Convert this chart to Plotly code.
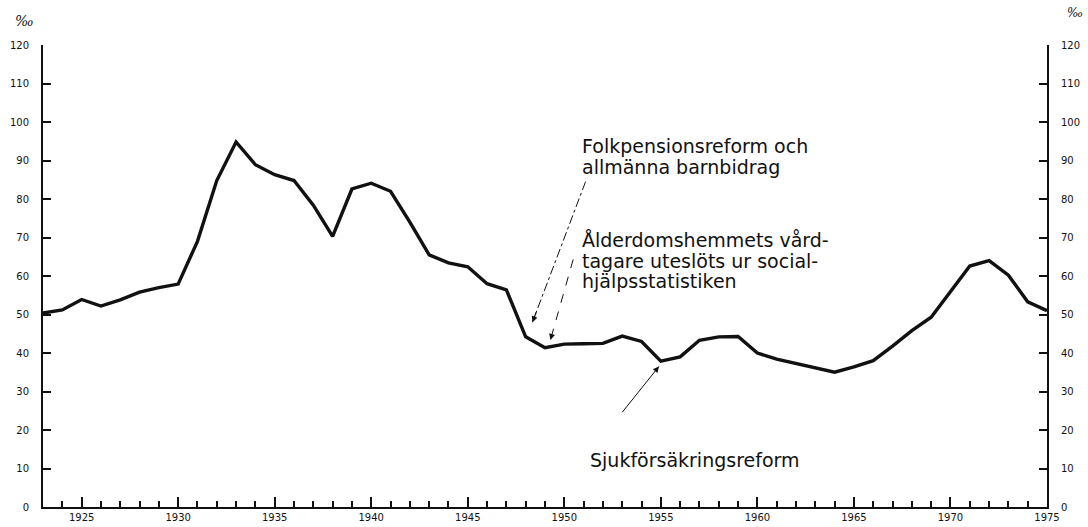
import plotly.graph_objects as go

# Socialhjälpstagare per 1000 invånare (‰), 1923-1975
years = list(range(1923, 1976))
values = [
    50.4, 51.2, 53.9, 52.2, 53.8, 55.8, 57.0, 57.9,   # 1923-1930
    69.0, 84.8, 94.8, 88.9, 86.3, 84.8, 78.4, 70.3,   # 1931-1938
    82.6, 84.1, 82.0, 74.0, 65.5, 63.4, 62.4, 58.0,   # 1939-1946
    56.4, 44.2, 41.4, 42.3, 42.4, 42.5, 44.4, 43.0,   # 1947-1954
    37.9, 39.0, 43.3, 44.2, 44.3, 40.0, 38.4, 37.2,   # 1955-1962
    36.0, 35.0, 36.4, 38.0, 41.8, 45.8, 49.3, 55.8,   # 1963-1970
    62.6, 64.0, 60.2, 53.3, 51.0,                     # 1971-1975
]

y_ticks = list(range(0, 121, 10))
x_ticks = list(range(1925, 1976, 5))

FONT = "DejaVu Sans"
BLACK = "#111111"

fig = go.Figure()

fig.add_trace(go.Scatter(
    x=years, y=values, mode="lines",
    line=dict(color=BLACK, width=3.4),
    hoverinfo="x+y", showlegend=False,
))
# same series on the right-hand axis (invisible) so that axis is drawn
fig.add_trace(go.Scatter(
    x=years, y=values, mode="lines", yaxis="y2",
    line=dict(color="rgba(0,0,0,0)", width=0),
    hoverinfo="skip", showlegend=False,
))

axis_common = dict(
    showline=True, linecolor=BLACK, linewidth=2,
    showgrid=False, zeroline=False,
    ticks="inside", tickcolor=BLACK, tickwidth=2,
)

fig.update_layout(
    width=1088, height=527,
    paper_bgcolor="white", plot_bgcolor="white",
    font=dict(family=FONT, color=BLACK),
    margin=dict(l=43, r=41, t=45, b=20),
    xaxis=dict(
        **axis_common,
        range=[1923, 1975],
        tickvals=x_ticks,
        ticklen=10,
        tickfont=dict(size=10),
        ticklabelstandoff=0,
        minor=dict(dtick=1, tick0=1923, ticks="inside", ticklen=6,
                   tickcolor=BLACK, tickwidth=1.5, showgrid=False),
        automargin=False,
    ),
    yaxis=dict(
        **axis_common,
        range=[0, 120],
        tickvals=y_ticks,
        ticklen=8,
        tickfont=dict(size=10),
        ticklabelstandoff=10,
        automargin=False,
    ),
    yaxis2=dict(
        **axis_common,
        overlaying="y", side="right",
        range=[0, 120],
        tickvals=y_ticks,
        ticklen=8,
        tickfont=dict(size=10),
        ticklabelstandoff=10,
        automargin=False,
    ),
)

# --- text labels -------------------------------------------------------
text_font = dict(family=FONT, size=19, color=BLACK)

label_lines = [
    ("Folkpensionsreform och", 0.535, 0.782),
    ("allmänna barnbidrag", 0.535, 0.735),
    ("Ålderdomshemmets vård-", 0.535, 0.577),
    ("tagare uteslöts ur social-", 0.535, 0.533),
    ("hjälpsstatistiken", 0.535, 0.489),
    ("Sjukförsäkringsreform", 0.543, 0.101),
]
for txt, px, py in label_lines:
    fig.add_annotation(text=txt, xref="paper", yref="paper", x=px, y=py,
                       xanchor="left", yanchor="middle", showarrow=False,
                       font=text_font)

# per mille unit labels on both axes
fig.add_annotation(text="<i>‰</i>", xref="paper", yref="paper", x=-0.018, y=1.052,
                   xanchor="center", yanchor="middle", showarrow=False,
                   font=dict(family="DejaVu Serif", size=14, color=BLACK))
fig.add_annotation(text="<i>‰</i>", xref="paper", yref="paper", x=1.028, y=1.069,
                   xanchor="center", yanchor="middle", showarrow=False,
                   font=dict(family="DejaVu Serif", size=12, color=BLACK))

# --- pointer lines (start -> head), in data coordinates ---------------
pointers = [
    ((1951.1, 84.5), (1948.35, 48.0), "dashdot"),
    ((1950.46, 64.3), (1949.28, 43.4), "dash"),
    ((1953.0, 24.6), (1954.9, 36.5), "solid"),
]
for (x0, y0), (x1, y1), dash in pointers:
    fig.add_shape(type="line", xref="x", yref="y", x0=x0, y0=y0, x1=x1, y1=y1,
                  line=dict(color=BLACK, width=1, dash=dash))
    # short solid stub carrying the arrowhead
    fig.add_annotation(x=x1, y=y1, ax=x1 + (x0 - x1) * 0.08, ay=y1 + (y0 - y1) * 0.08,
                       xref="x", yref="y", axref="x", ayref="y", text="",
                       showarrow=True, arrowhead=2, arrowsize=1, arrowwidth=1.2,
                       arrowcolor=BLACK)

# the page body has a default 8px margin; remove it so the figure fills the window
fig.write_html("out.html", config={"displayModeBar": False},
               post_script="document.body.style.margin='0';")
